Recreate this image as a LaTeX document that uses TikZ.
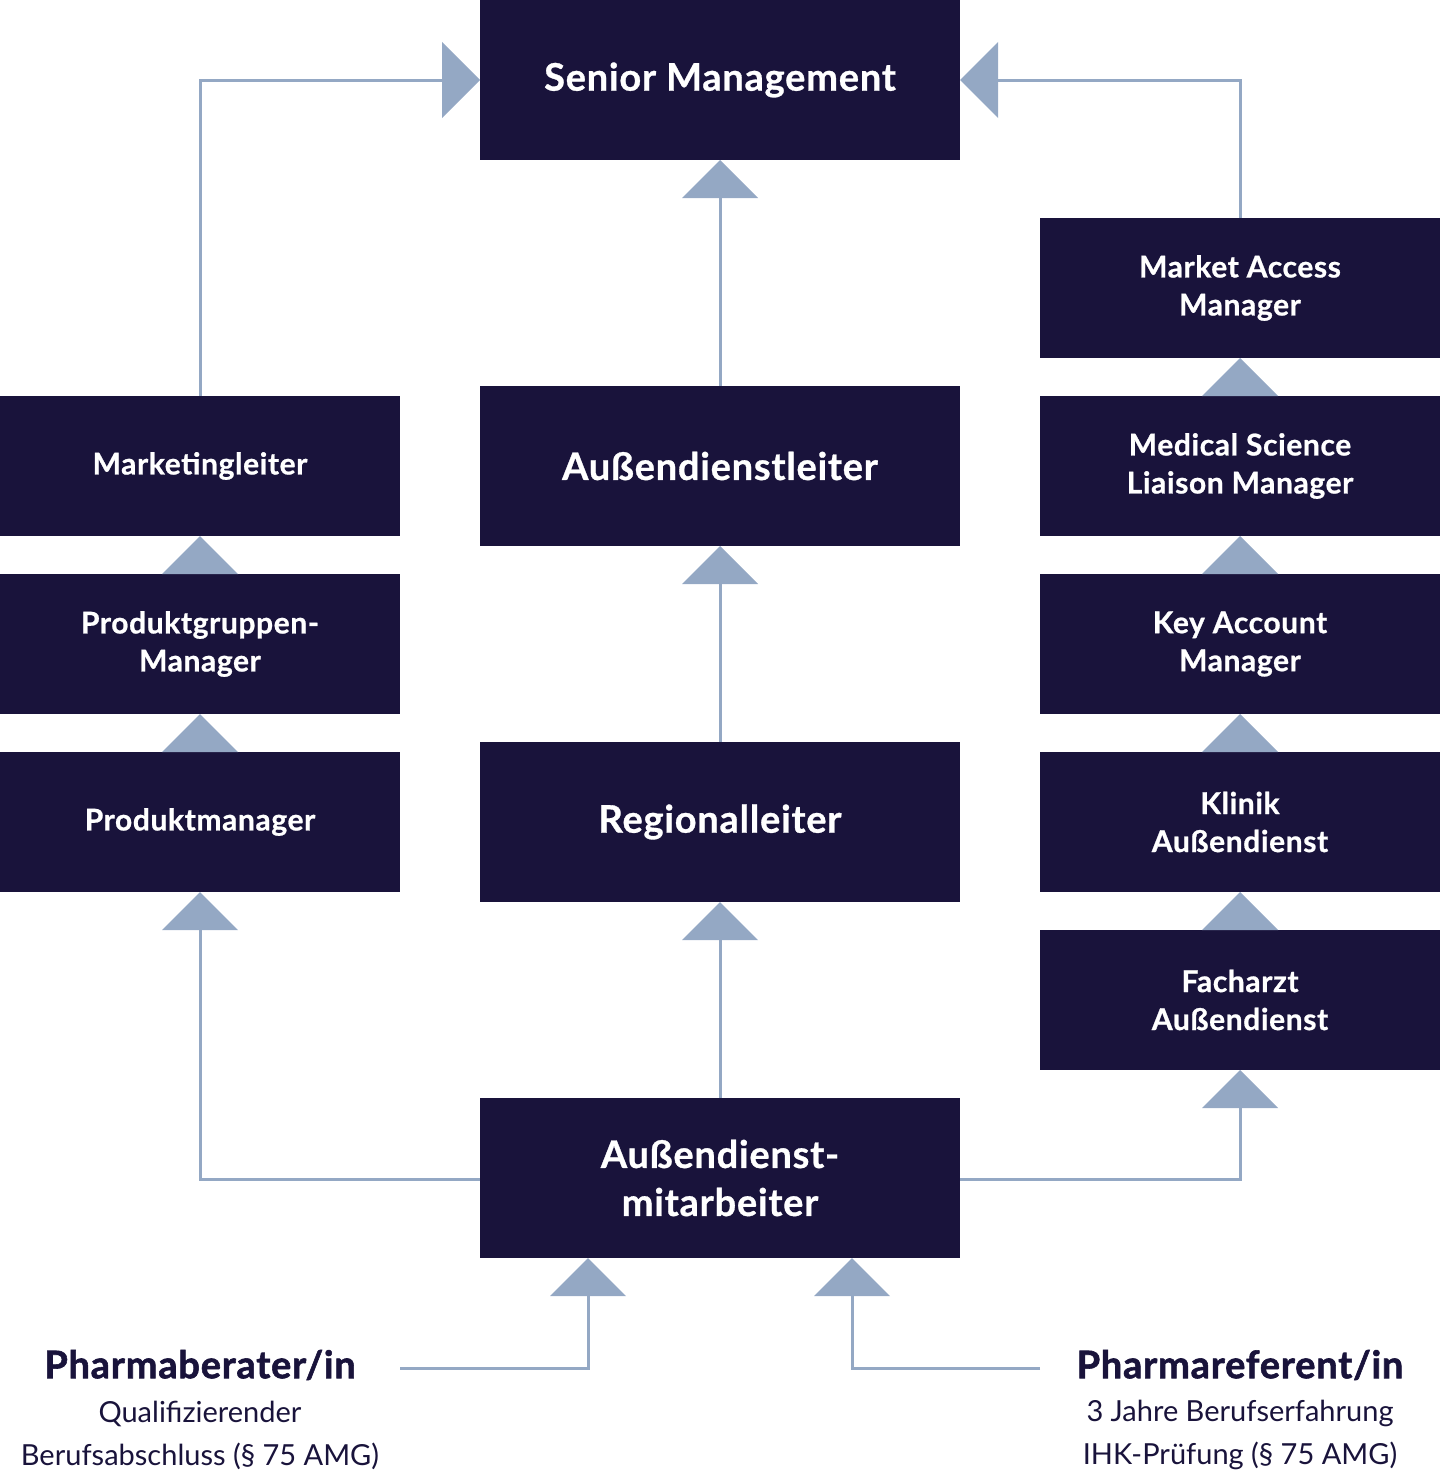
\documentclass[tikz,border=0pt]{standalone}
\usepackage{fontspec}
\setmainfont{Lato}
\usetikzlibrary{arrows.meta}
\definecolor{navy}{HTML}{19133B}
\definecolor{steel}{HTML}{94A8C4}
\begin{document}
\begin{tikzpicture}[x=1pt,y=-1pt,
  box/.style={fill=navy,text=white,inner sep=0pt,outer sep=0pt,align=center,font=\bfseries\fontsize{30}{38}\selectfont\addfontfeature{FakeBold=0.8,LetterSpace=2}},
  smallbox/.style={box,minimum width=400pt,minimum height=140pt},
  bigbox/.style={box,minimum width=480pt,minimum height=160pt,font=\bfseries\fontsize{38}{48}\selectfont\addfontfeature{FakeBold=0.8,LetterSpace=2}},
  conn/.style={draw=steel,line width=3pt,-{Triangle[length=38pt,width=76pt,line width=0pt,fill=steel]}},
  title/.style={text=navy,font=\bfseries\fontsize{38}{43}\selectfont\addfontfeature{FakeBold=1.5,LetterSpace=2},inner sep=0pt},
  sub/.style={text=navy,font=\fontsize{29}{43}\selectfont,inner sep=0pt,align=center}]
\useasboundingbox (0,0) rectangle (1440,1480);
% boxes
\node[bigbox] (sm) at (720,80) {Senior Management};
\node[smallbox] (mam) at (1240,288) {Market Access\\Manager};
\node[smallbox] (ml) at (200,466) {Marketingleiter};
\node[bigbox] (adl) at (720,466) {Außendienstleiter};
\node[smallbox] (msl) at (1240,466) {Medical Science\\Liaison Manager};
\node[smallbox] (pgm) at (200,644) {Produktgruppen-\\Manager};
\node[smallbox] (kam) at (1240,644) {Key Account\\Manager};
\node[smallbox] (pm) at (200,822) {Produktmanager};
\node[bigbox] (rl) at (720,822) {Regionalleiter};
\node[smallbox] (kl) at (1240,822) {Klinik\\Außendienst};
\node[smallbox] (fa) at (1240,1000) {Facharzt\\Außendienst};
\node[bigbox] (adm) at (720,1178) {Außendienst-\\mitarbeiter};
% bottom texts
\node[title] (pb) at (200,1365) {Pharmaberater/in};
\node[sub] (pbs) at (200,1435) {Qualifizierender\\Berufsabschluss (§ 75 AMG)};
\node[title] (pr) at (1240,1365) {Pharmareferent/in};
\node[sub] (prs) at (1240,1435) {3 Jahre Berufserfahrung\\IHK-Prüfung (§ 75 AMG)};
\coordinate (pbc) at (400,1368);
\coordinate (prc) at (1040,1368);
% connectors
\draw[conn] (ml.north) |- (sm.west);
\draw[conn] (mam.north) |- (sm.east);
\draw[conn] (adl.north) -- (sm.south);
\draw[conn] (rl.north) -- (adl.south);
\draw[conn] (adm.north) -- (rl.south);
\draw[conn] (pgm.north) -- (ml.south);
\draw[conn] (pm.north) -- (pgm.south);
\draw[conn] ([yshift=-1pt]adm.west) -| (pm.south);
\draw[conn] ([yshift=-1pt]adm.east) -| (fa.south);
\draw[conn] (fa.north) -- (kl.south);
\draw[conn] (kl.north) -- (kam.south);
\draw[conn] (kam.north) -- (msl.south);
\draw[conn] (msl.north) -- (mam.south);
\draw[conn] (pbc) -| ([xshift=-132pt]adm.south);
\draw[conn] (prc) -| ([xshift=132pt]adm.south);
\end{tikzpicture}
\end{document}
